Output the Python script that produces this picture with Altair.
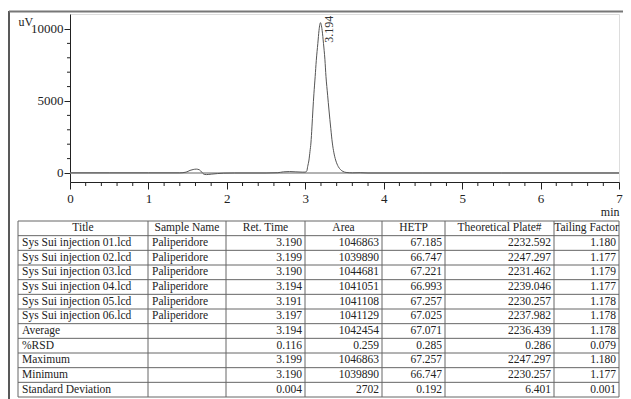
import altair as alt
import pandas as pd

# ---------------- chromatogram trace ----------------
TIME = [0.00, 0.50, 1.00, 1.40, 1.48, 1.53, 1.57, 1.61, 1.65, 1.68, 1.71, 1.74,
        1.80, 1.88, 1.96, 2.10, 2.50, 2.65, 2.72, 2.80, 2.88, 2.96, 3.00, 3.02,
        3.03, 3.047, 3.06, 3.072, 3.085, 3.097, 3.11, 3.126, 3.14, 3.16, 3.175,
        3.185, 3.194, 3.203, 3.215, 3.232, 3.25, 3.264, 3.285, 3.302, 3.325,
        3.345, 3.365, 3.387, 3.405, 3.421, 3.45, 3.48, 3.52, 3.60, 3.70, 3.80,
        4.50, 5.50, 7.00]
SIGNAL = [10, 10, 10, 10, 60, 180, 240, 270, 220, 60, -90, -110,
          -80, -40, -10, 0, 0, 20, 80, 100, 80, 60, 60, 150,
          440, 900, 1500, 2080, 3200, 4375, 5500, 6690, 7800, 9000, 9900,
          10300, 10440, 10300, 9900, 9000, 7900, 6690, 5400, 4375, 3100,
          2080, 1400, 900, 620, 440, 230, 110, 40, 10, 20, 0,
          0, 0, 0]

PEAK_RT = [3.194]
PEAK_LABEL = ["3.194"]
PEAK_LABEL_Y = [9050]

X_TICKS = [0, 1, 2, 3, 4, 5, 6, 7]
X_MINOR = [0.2, 0.4, 0.6, 0.8, 1.2, 1.4, 1.6, 1.8, 2.2, 2.4, 2.6, 2.8,
           3.2, 3.4, 3.6, 3.8, 4.2, 4.4, 4.6, 4.8, 5.2, 5.4, 5.6, 5.8,
           6.2, 6.4, 6.6, 6.8]
Y_TICKS = [0, 5000, 10000]
Y_MINOR = [1000, 2000, 3000, 4000, 6000, 7000, 8000, 9000]
X_DOMAIN = [0, 7]
Y_DOMAIN = [-625, 11040]

# ---------------- results table ----------------
HEADERS = ["Title", "Sample Name", "Ret. Time", "Area", "HETP",
           "Theoretical Plate#", "Tailing Factor"]
TITLES = ["Sys Sui injection 01.lcd", "Sys Sui injection 02.lcd",
          "Sys Sui injection 03.lcd", "Sys Sui injection 04.lcd",
          "Sys Sui injection 05.lcd", "Sys Sui injection 06.lcd",
          "Average", "%RSD", "Maximum", "Minimum", "Standard Deviation"]
SAMPLES = ["Paliperidore", "Paliperidore", "Paliperidore", "Paliperidore",
           "Paliperidore", "Paliperidore", "", "", "", "", ""]
RET_TIME = ["3.190", "3.199", "3.190", "3.194", "3.191", "3.197",
            "3.194", "0.116", "3.199", "3.190", "0.004"]
AREA = ["1046863", "1039890", "1044681", "1041051", "1041108", "1041129",
        "1042454", "0.259", "1046863", "1039890", "2702"]
HETP = ["67.185", "66.747", "67.221", "66.993", "67.257", "67.025",
        "67.071", "0.285", "67.257", "66.747", "0.192"]
PLATES = ["2232.592", "2247.297", "2231.462", "2239.046", "2230.257", "2237.982",
          "2236.439", "0.286", "2247.297", "2230.257", "6.401"]
TAILING = ["1.180", "1.177", "1.179", "1.177", "1.178", "1.178",
           "1.178", "0.079", "1.180", "1.177", "0.001"]

# layout (pixels)
FONT = "Liberation Serif"
W, H = 549, 168
PAD = {"left": 62, "top": 6, "right": 4, "bottom": 217}
COL_WIDTHS = [130, 78, 79, 77, 63, 109, 65]
TABLE_X_RANGE = [-52, W]
TABLE_Y_RANGE = [207, 383]

# ---------------- chromatogram layers ----------------
trace = pd.DataFrame({"t": TIME, "s": SIGNAL})
xs = alt.Scale(domain=X_DOMAIN, nice=False, zero=False)
ys = alt.Scale(domain=Y_DOMAIN, nice=False, zero=False)

line = alt.Chart(trace).mark_line(color="#555", strokeWidth=1, interpolate="monotone").encode(
    x=alt.X("t:Q", scale=xs, axis=alt.Axis(
        values=X_TICKS, format="d", tickSize=7, labelPadding=3, domain=True,
        domainColor="#222", tickColor="#222", labelColor="#222", labelFontSize=13,
        labelFont=FONT, grid=False, title="min", titleFont=FONT, titleFontSize=12,
        titleFontWeight="normal", titleColor="#222", titleX=W, titleY=33,
        titleAlign="right", titleBaseline="alphabetic", labelFlush=False)),
    y=alt.Y("s:Q", scale=ys, axis=alt.Axis(
        values=Y_TICKS, format="d", tickSize=6, labelPadding=1, domainColor="#222",
        tickColor="#222", labelColor="#222", labelFontSize=13, labelFont=FONT,
        grid=False, title="uV", titleAngle=0, titleFont=FONT, titleFontSize=12,
        titleFontWeight="normal", titleColor="#222", titleX=-52, titleY=11,
        titleAlign="left", titleBaseline="alphabetic")),
)

zero = alt.Chart(pd.DataFrame({"z": [0]})).mark_rule(color="#999", strokeWidth=1.5).encode(
    y=alt.Y("z:Q", scale=ys)
)

xminor = alt.Chart(pd.DataFrame({"m": X_MINOR})).mark_rule(color="#222", strokeWidth=1).encode(
    x=alt.X("m:Q", scale=xs), y=alt.value(H), y2=alt.value(H + 4)
)
yminor = alt.Chart(pd.DataFrame({"m": Y_MINOR})).mark_rule(color="#222", strokeWidth=1).encode(
    y=alt.Y("m:Q", scale=ys), x=alt.value(-3), x2=alt.value(0)
)

peak = alt.Chart(pd.DataFrame({"t": PEAK_RT, "s": PEAK_LABEL_Y, "lab": PEAK_LABEL})).mark_text(
    angle=270, align="left", baseline="middle", dy=8, font=FONT, fontSize=12, color="#333"
).encode(x=alt.X("t:Q", scale=xs), y=alt.Y("s:Q", scale=ys), text="lab:N")

chrom = alt.layer(zero, line, xminor, yminor, peak)

# ---------------- table layers ----------------
edges = [0]
for w in COL_WIDTHS:
    edges.append(edges[-1] + w)
n_rows = 1 + len(TITLES)

tx = alt.Scale(domain=[0, edges[-1]], range=TABLE_X_RANGE, nice=False, zero=False)
ty = alt.Scale(domain=[0, n_rows], range=TABLE_Y_RANGE, nice=False, zero=False)

hlines = pd.DataFrame({"y": list(range(n_rows + 1)), "x0": 0, "x1": edges[-1]})
vlines = pd.DataFrame({"x": edges, "y0": 0, "y1": n_rows})

cells = []
for c, h in enumerate(HEADERS):
    cells.append({"x": (edges[c] + edges[c + 1]) / 2, "y": 0.5, "txt": h, "al": "c"})
columns = [TITLES, SAMPLES, RET_TIME, AREA, HETP, PLATES, TAILING]
for c, col in enumerate(columns):
    for r, v in enumerate(col):
        if c < 2:
            cells.append({"x": edges[c], "y": r + 1.5, "txt": v, "al": "l"})
        else:
            cells.append({"x": edges[c + 1], "y": r + 1.5, "txt": v, "al": "r"})
cells = pd.DataFrame(cells)

hl = alt.Chart(hlines).mark_rule(color="#666", strokeWidth=1).encode(
    x=alt.X("x0:Q", scale=tx, axis=None), x2="x1:Q", y=alt.Y("y:Q", scale=ty, axis=None)
)
vl = alt.Chart(vlines).mark_rule(color="#666", strokeWidth=1).encode(
    x=alt.X("x:Q", scale=tx, axis=None), y=alt.Y("y0:Q", scale=ty, axis=None), y2="y1:Q"
)

def txt(al, align, dx):
    return alt.Chart(cells[cells["al"] == al]).mark_text(
        align=align, baseline="middle", dx=dx, font=FONT, fontSize=11.5, color="#222"
    ).encode(x=alt.X("x:Q", scale=tx, axis=None), y=alt.Y("y:Q", scale=ty, axis=None),
             text="txt:N")

frame_df = pd.DataFrame({"a": [0]})
left_frame = alt.Chart(frame_df).mark_rule(color="#222", strokeWidth=1.5).encode(
    x=alt.value(-61), y=alt.value(-3), y2=alt.value(385))
top_frame = alt.Chart(frame_df).mark_rule(color="#777", strokeWidth=2).encode(
    y=alt.value(-2.5), x=alt.value(-61), x2=alt.value(W + 4))

table = alt.layer(hl, vl, txt("c", "center", 0), txt("l", "left", 4), txt("r", "right", -3),
                  left_frame, top_frame)

chart = alt.layer(chrom, table).resolve_scale(x="independent", y="independent").properties(
    width=W, height=H,
    autosize=alt.AutoSizeParams(type="none"),
    padding=PAD,
).configure_view(stroke="#222", strokeWidth=1).configure(background="white")

chart.save("out.html", embed_options={"renderer": "svg", "actions": False})
